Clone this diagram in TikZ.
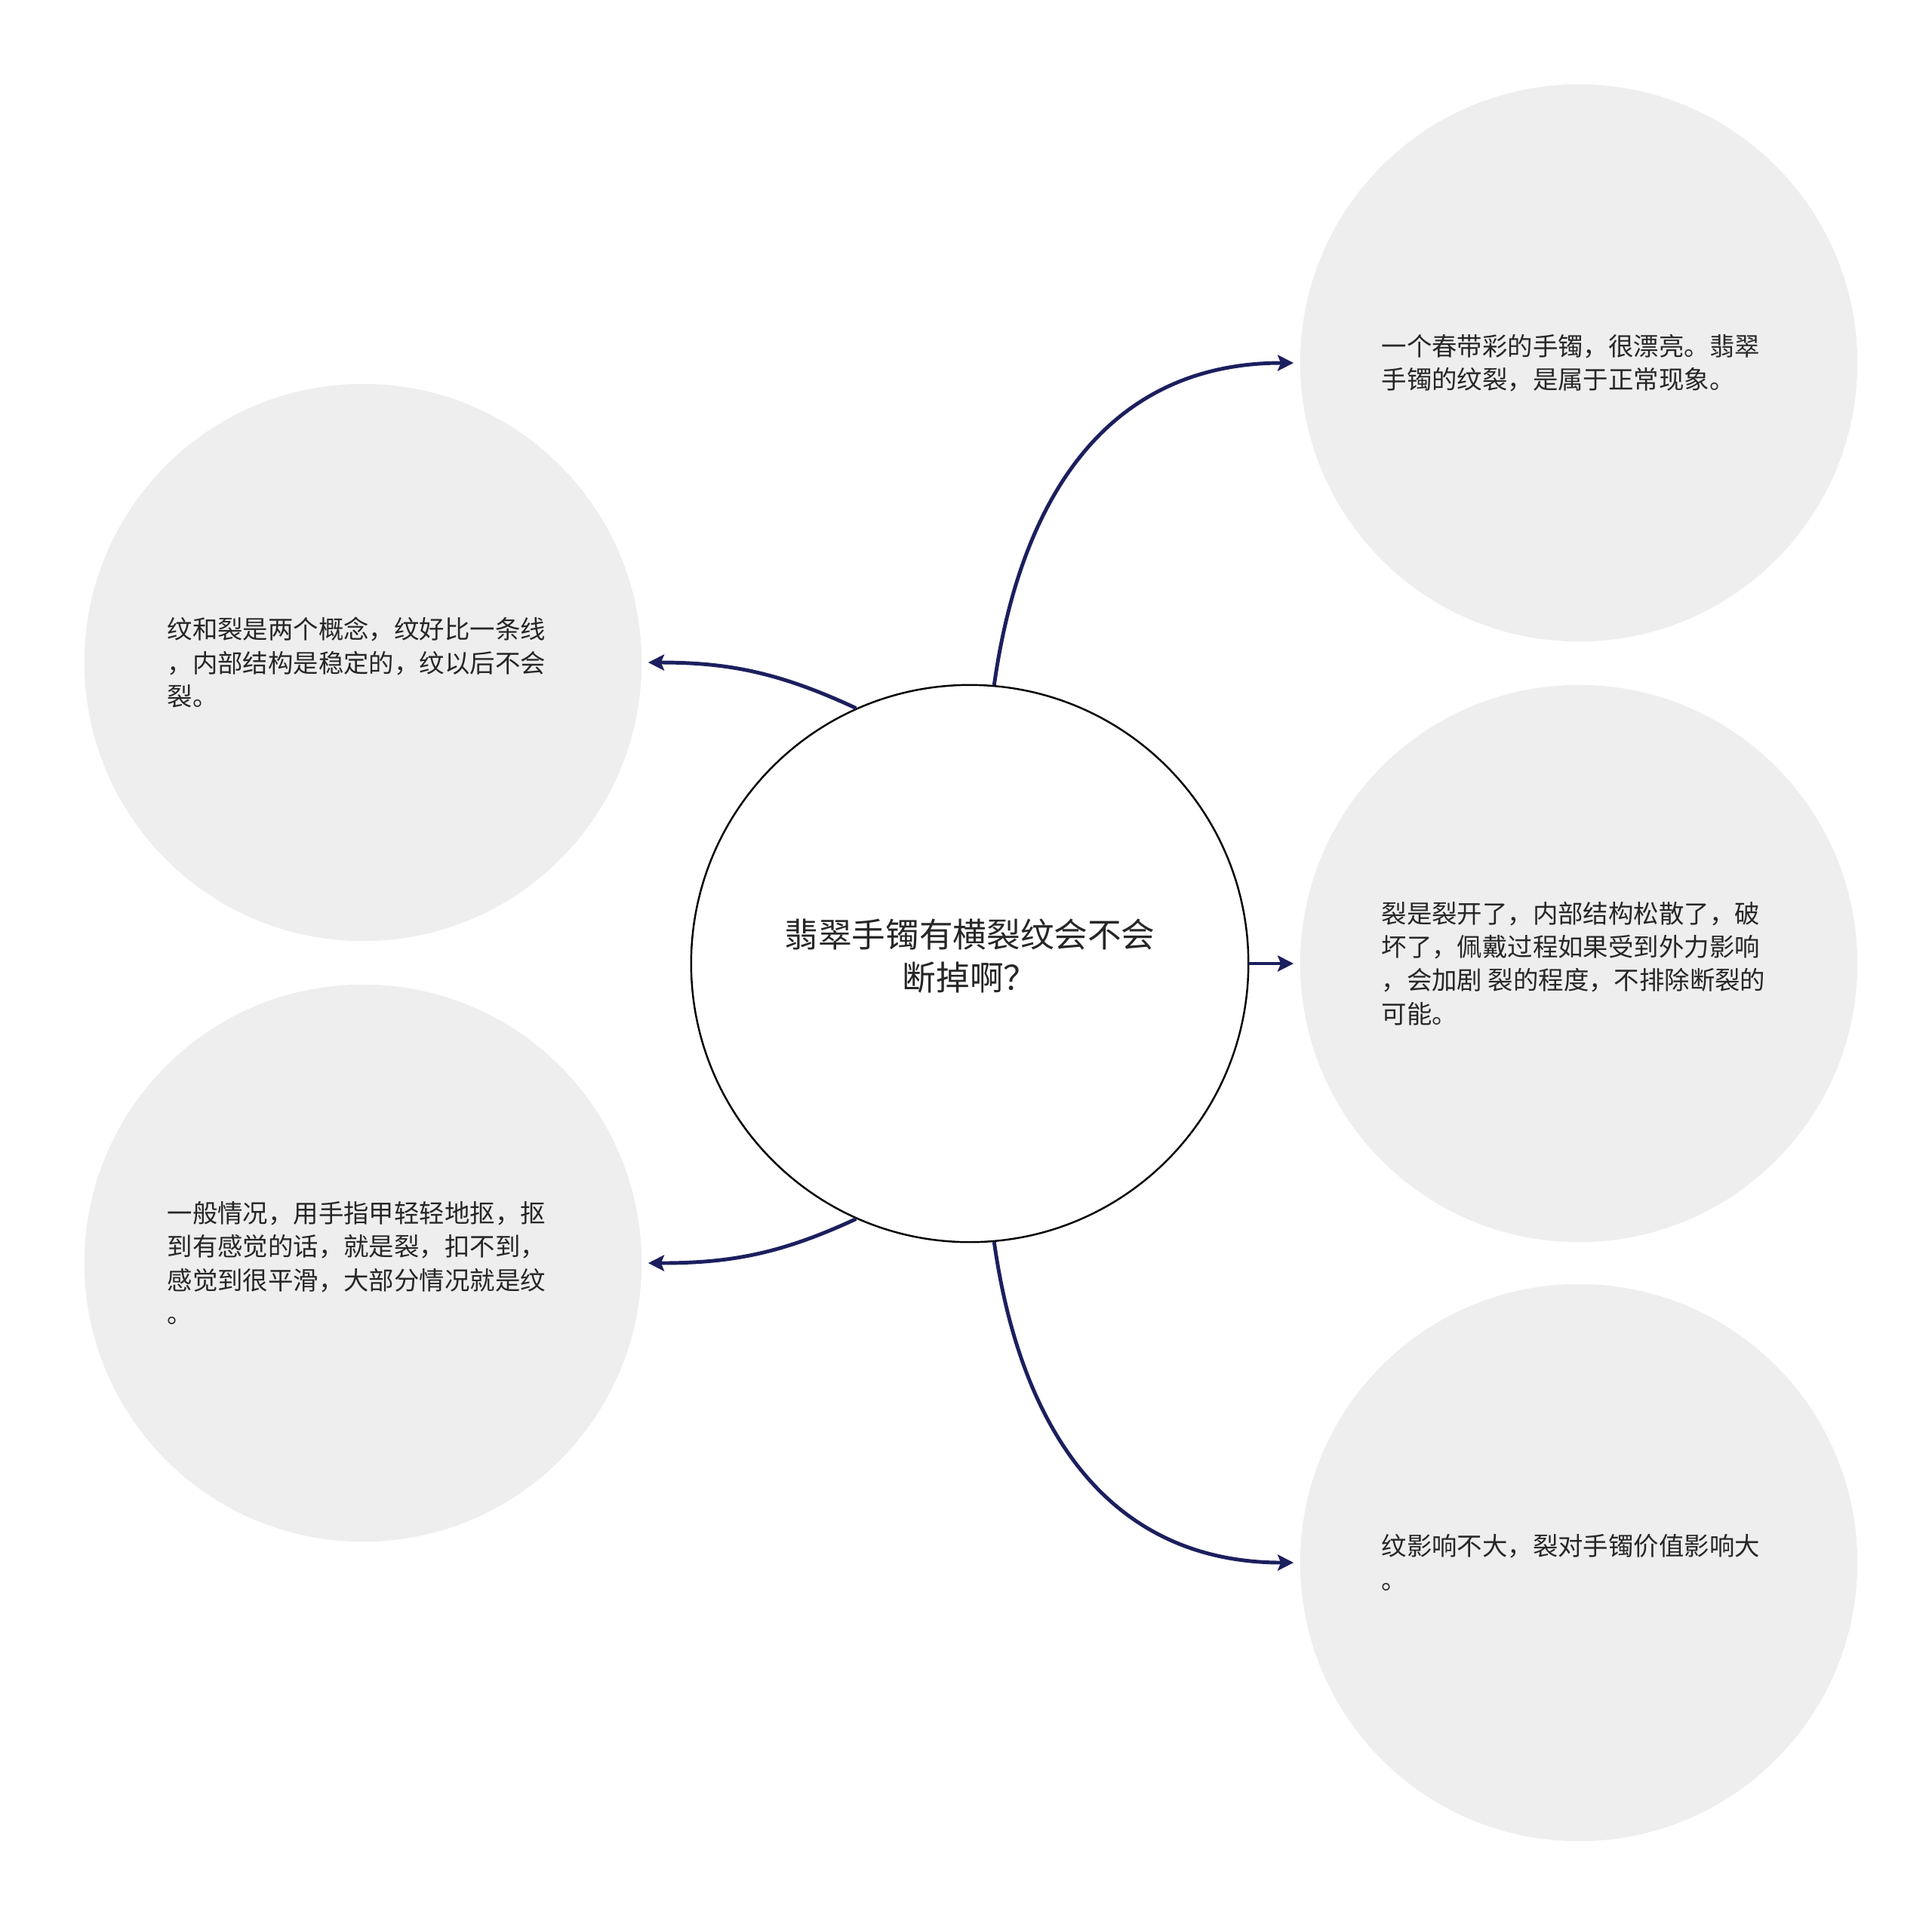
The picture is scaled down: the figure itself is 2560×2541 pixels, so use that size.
\documentclass[tikz,border=0pt]{standalone}
\usepackage{fontspec}
\setmainfont{Noto Sans CJK SC}
\usetikzlibrary{arrows.meta}
\definecolor{bubble}{HTML}{EEEEEE}
\definecolor{linkc}{HTML}{1C1F5E}
\definecolor{txt}{HTML}{262626}
\begin{document}
\begin{tikzpicture}[x=0.01cm,y=0.01cm,
  bubble/.style={circle,fill=bubble,draw=none,minimum size=7.38cm,inner sep=0},
  hub/.style={circle,fill=white,draw=black,line width=0.7pt,minimum size=7.38cm,inner sep=0},
  para/.style={anchor=west,align=left,inner sep=0,text=txt,font=\fontsize{9.5pt}{12.6pt}\selectfont},
  link/.style={draw=linkc,line width=1.4pt,-{Stealth[length=6pt,width=6pt,inset=1.2pt]},shorten >=0.08cm}
]
\useasboundingbox (0,0) rectangle (2560,-2541);
\node[hub] (c) at (1285,-1277) {};
\node[align=center,inner sep=0,text=txt,font=\fontsize{12.7pt}{16.3pt}\selectfont] (ct) at (1285,-1267) {翡翠手镯有横裂纹会不会\\断掉啊？};
\node[bubble] (r1) at (2092,-481) {};
\node[bubble] (r2) at (2092,-1277) {};
\node[bubble] (r3) at (2092,-2071) {};
\node[bubble] (l1) at (481,-878) {};
\node[bubble] (l2) at (481,-1674) {};
\node[para] (t1) at (1830,-481) {一个春带彩的手镯，很漂亮。翡翠\\手镯的纹裂，是属于正常现象。};
\node[para] (t2) at (1830,-1277) {裂是裂开了，内部结构松散了，破\\坏了，佩戴过程如果受到外力影响\\，会加剧 裂的程度，不排除断裂的\\可能。};
\node[para] (t3) at (1830,-2071) {纹影响不大，裂对手镯价值影响大\\。};
\node[para] (t4) at (221,-878) {纹和裂是两个概念，纹好比一条线\\，内部结构是稳定的，纹以后不会\\裂。};
\node[para] (t5) at (221,-1674) {一般情况，用手指甲轻轻地抠，抠\\到有感觉的话，就是裂，扣不到，\\感觉到很平滑，大部分情况就是纹\\。};
\draw[link] (c.85) to[out=82,in=180,looseness=1.1] (r1.west);
\draw[link] (c.east) -- (r2.west);
\draw[link] (c.275) to[out=-82,in=180,looseness=1.1] (r3.west);
\draw[link] (c.114) to[out=155,in=0] (l1.east);
\draw[link] (c.246) to[out=-155,in=0] (l2.east);
\end{tikzpicture}
\end{document}
